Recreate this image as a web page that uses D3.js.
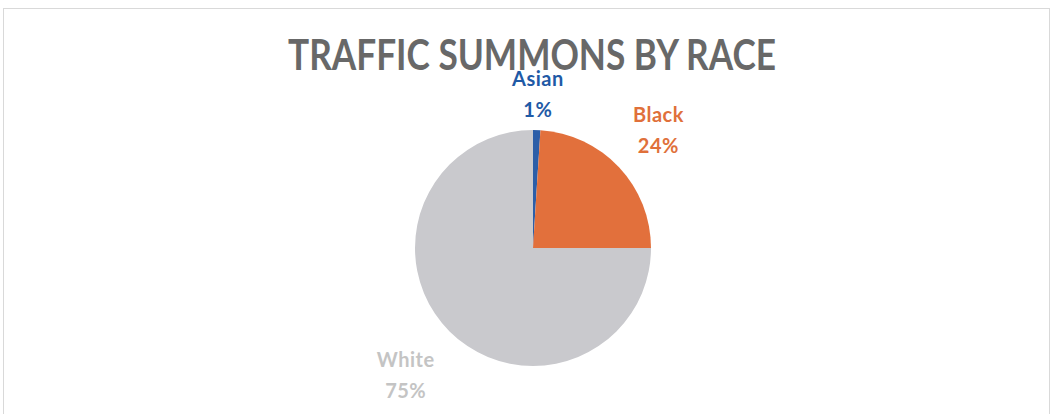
<!DOCTYPE html>
<html>
<head>
<meta charset="utf-8">
<script src="https://cdn.jsdelivr.net/npm/d3@7"></script>
<style>
  html, body { margin: 0; padding: 0; background: #fff; }
  svg { display: block; }
  text { font-family: Lato, "Open Sans", sans-serif; font-weight: 700; }
</style>
</head>
<body>
<svg id="chart" width="1055" height="414"></svg>
<script>
// Traffic summons share by race
const categories = ["Asian", "Black", "White"];
const shares = [1, 24, 75];
const sliceColors = ["#2c5ea8", "#e2703c", "#c9c9cd"];
const labelColors = ["#1f5aa6", "#e0703a", "#c4c4c4"];
const title = "TRAFFIC SUMMONS BY RACE";

const W = 1055, H = 414;
const svg = d3.select("#chart");

// chart frame
svg.append("rect")
  .attr("x", 3.5).attr("y", 8.5)
  .attr("width", 1046).attr("height", H)
  .attr("fill", "#fff")
  .attr("stroke", "#d9d9d9");

// condensed bold title
svg.append("text")
  .attr("x", 532).attr("y", 70)
  .attr("text-anchor", "middle")
  .attr("font-size", 42)
  .attr("textLength", 488)
  .attr("lengthAdjust", "spacingAndGlyphs")
  .attr("fill", "#686868")
  .text(title);

const cx = 533, cy = 248, R = 118;
const g = svg.append("g").attr("transform", `translate(${cx},${cy})`);

const pie = d3.pie().sort(null).value(d => d.v);
const arcs = pie(categories.map((c, i) => ({ c, v: shares[i], i })));
const arc = d3.arc().innerRadius(0).outerRadius(R);

g.selectAll("path.slice")
  .data(arcs)
  .join("path")
  .attr("class", "slice")
  .attr("d", arc)
  .attr("fill", d => sliceColors[d.data.i]);

// label distance from the centre, per slice
const labelRadius = [154, 172, 180];
const labels = g.selectAll("g.lbl")
  .data(arcs)
  .join("g")
  .attr("class", "lbl")
  .attr("transform", d => {
    const r = labelRadius[d.data.i];
    const [x, y] = d3.arc().innerRadius(r).outerRadius(r).centroid(d);
    return `translate(${x},${y})`;
  });

labels.append("text")
  .attr("text-anchor", "middle")
  .attr("y", -8)
  .attr("font-size", 20)
  .attr("letter-spacing", 0.5)
  .attr("fill", d => labelColors[d.data.i])
  .text(d => d.data.c);

labels.append("text")
  .attr("text-anchor", "middle")
  .attr("y", 23)
  .attr("font-size", 20)
  .attr("letter-spacing", 0.5)
  .attr("fill", d => labelColors[d.data.i])
  .text(d => d.data.v + "%");
</script>
</body>
</html>
